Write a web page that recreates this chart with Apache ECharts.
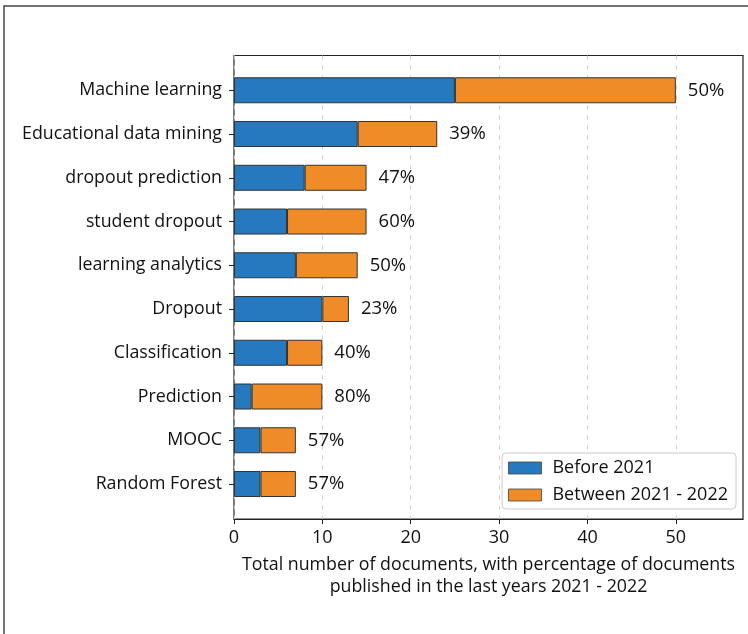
<!DOCTYPE html>
<html>
<head>
<meta charset="utf-8">
<script src="https://cdn.jsdelivr.net/npm/echarts@6/dist/echarts.min.js"></script>
<style>
  html, body { margin: 0; padding: 0; background: #fff; }
  #main { width: 748px; height: 634px; }
</style>
</head>
<body>
<div id="main"></div>
<script>
var chartDom = document.getElementById('main');
var myChart = echarts.init(chartDom);
var option;

var categories = ['Machine learning', 'Educational data mining', 'dropout prediction', 'student dropout',
  'learning analytics', 'Dropout', 'Classification', 'Prediction', 'MOOC', 'Random Forest'];
var before2021 = [25, 14, 8, 6, 7, 10, 6, 2, 3, 3];
var between2021_2022 = [25, 9, 7, 9, 7, 3, 4, 8, 4, 4];
var shareLabels = ['50%', '39%', '47%', '60%', '50%', '23%', '40%', '80%', '57%', '57%'];
var xTicks = [0, 10, 20, 30, 40, 50];

var font = 'Open Sans';
var textColor = '#111';
var barBorder = { borderColor: '#333', borderWidth: 1 };

option = {
  animation: false,
  backgroundColor: '#fff',
  textStyle: { fontFamily: font },
  graphic: [
    {
      type: 'rect',
      shape: { x: 4, y: 6, width: 800, height: 700 },
      style: { fill: 'none', stroke: '#444', lineWidth: 1.5 },
      z: -1
    }
  ],
  grid: [
    // frame + x axis
    { left: 234, right: 5, top: 55.5, bottom: 115, show: true, borderColor: '#222', borderWidth: 1.2, backgroundColor: 'transparent' },
    // bars
    { left: 234, right: 5, top: 68.4, bottom: 128.1 }
  ],
  xAxis: [
    {
      gridIndex: 0,
      type: 'value',
      min: 0,
      max: 57.6,
      interval: 10,
      axisLine: { show: true, lineStyle: { color: '#222', width: 1.2 } },
      axisTick: { show: true, length: 5, customValues: xTicks, lineStyle: { color: '#222' } },
      axisLabel: { color: textColor, fontSize: 18, margin: 10, customValues: xTicks },
      splitLine: { show: true, lineStyle: { color: '#ccc', type: [4, 6], width: 1 } },
      name: 'Total number of documents, with percentage of documents\npublished in the last years 2021 - 2022',
      nameLocation: 'middle',
      nameGap: 35,
      nameTextStyle: { color: textColor, fontSize: 17.8, lineHeight: 22, verticalAlign: 'top' }
    },
    {
      gridIndex: 1,
      type: 'value',
      min: 0,
      max: 57.6,
      show: false
    }
  ],
  yAxis: [
    {
      gridIndex: 0,
      type: 'value',
      min: 0,
      max: 1,
      show: false
    },
    {
      gridIndex: 1,
      type: 'category',
      inverse: true,
      data: categories,
      axisLine: { show: false },
      axisTick: { show: true, length: 5, alignWithLabel: true, lineStyle: { color: '#222' } },
      axisLabel: { color: textColor, fontSize: 17.8, margin: 12 }
    }
  ],
  legend: {
    orient: 'vertical',
    right: 12,
    bottom: 125,
    icon: 'rect',
    itemWidth: 33,
    itemHeight: 12,
    itemGap: 9,
    padding: [6, 8, 5, 6],
    borderColor: '#ccc',
    borderWidth: 1,
    borderRadius: 4,
    backgroundColor: '#fff',
    itemStyle: { borderWidth: 0.8, borderColor: '#444' },
    textStyle: { color: textColor, fontSize: 18, padding: [0, 0, 0, 6] },
    data: ['Before 2021', 'Between 2021 - 2022']
  },
  series: [
    {
      name: 'Before 2021',
      type: 'bar',
      xAxisIndex: 1,
      yAxisIndex: 1,
      stack: 'total',
      barWidth: 26,
      itemStyle: Object.assign({ color: '#2679be' }, barBorder),
      data: before2021
    },
    {
      name: 'Between 2021 - 2022',
      type: 'bar',
      xAxisIndex: 1,
      yAxisIndex: 1,
      stack: 'total',
      barWidth: 26,
      itemStyle: Object.assign({ color: '#f08c28' }, barBorder),
      label: {
        show: true,
        position: 'right',
        distance: 12,
        color: textColor,
        fontSize: 18.5,
        formatter: function (p) { return shareLabels[p.dataIndex]; }
      },
      data: between2021_2022
    }
  ]
};

option && myChart.setOption(option);
</script>
</body>
</html>
